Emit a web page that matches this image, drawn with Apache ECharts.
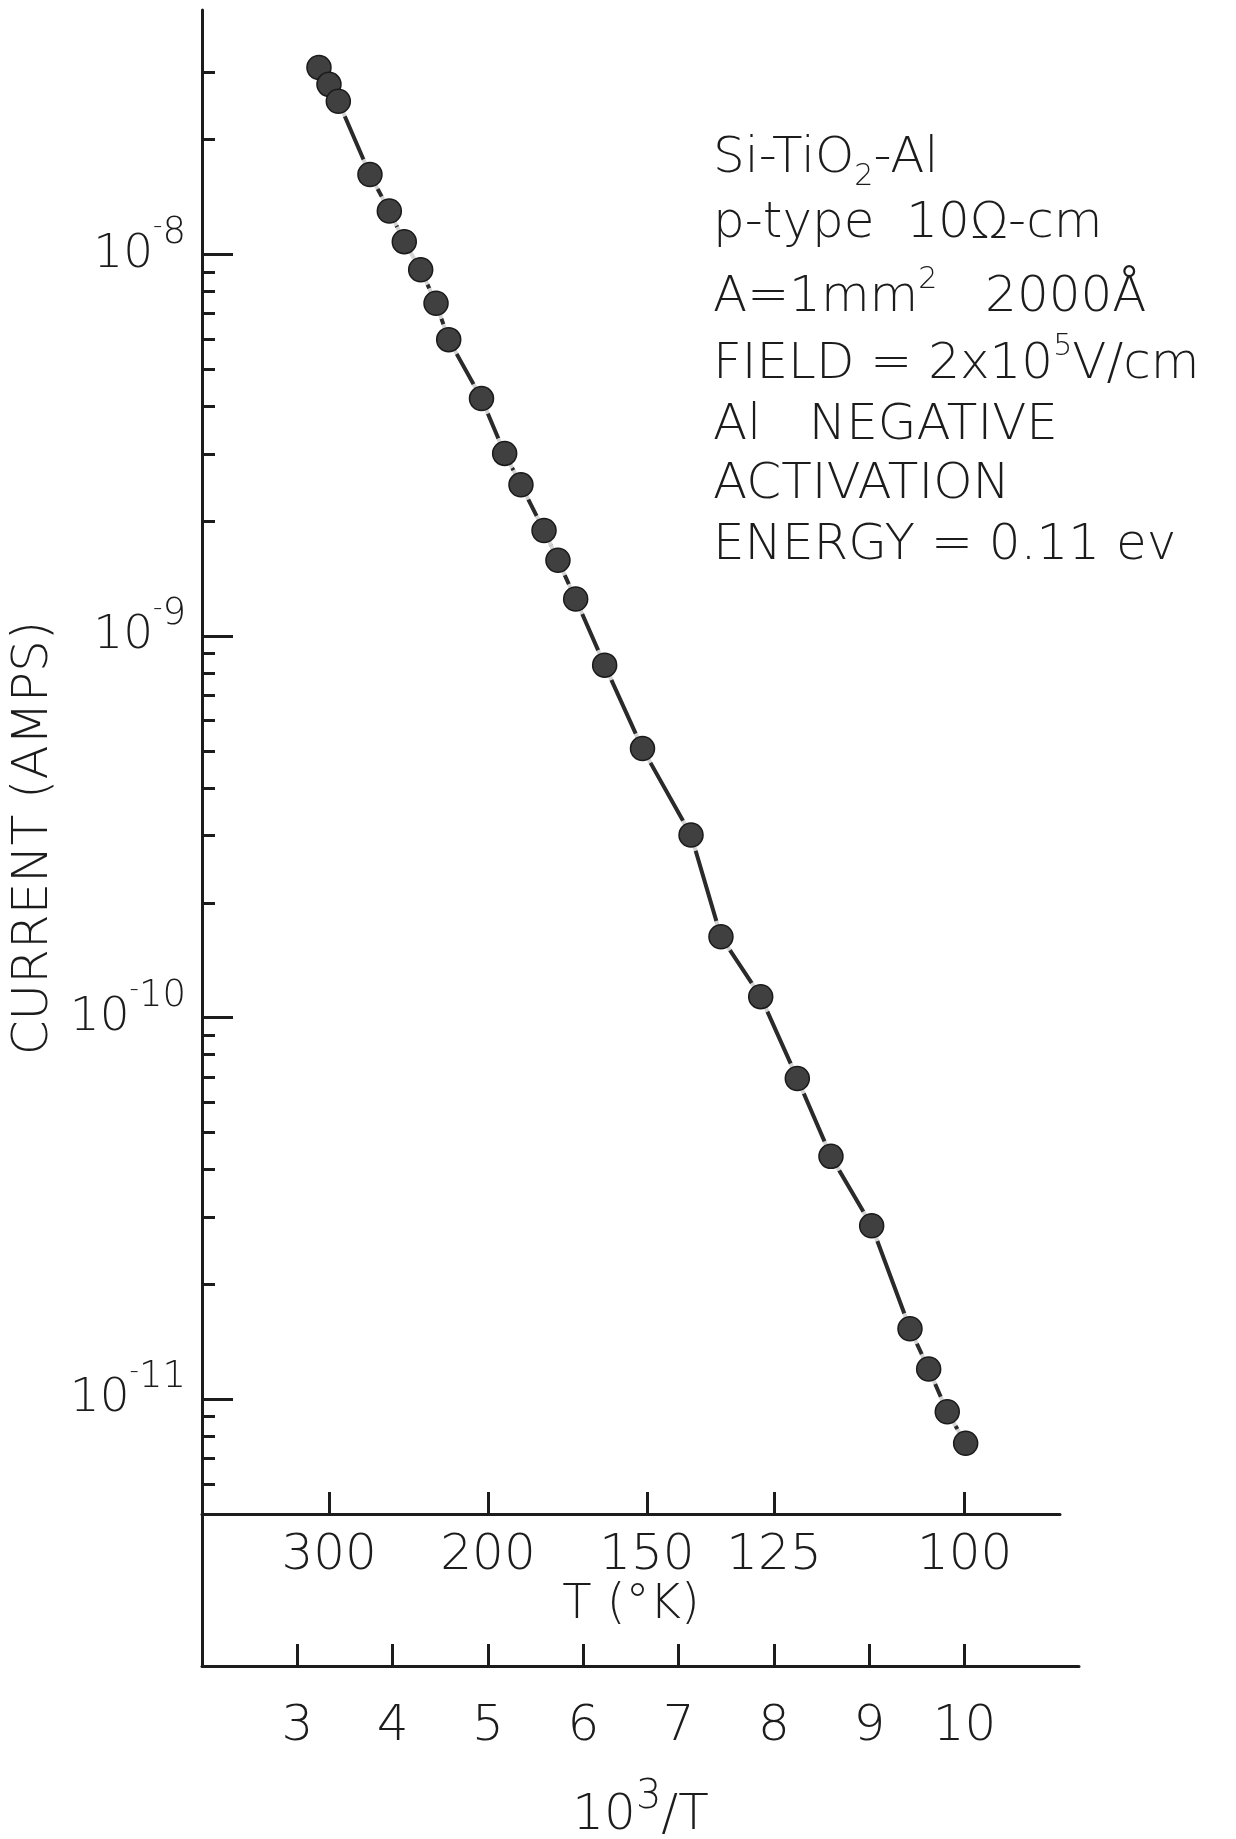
<!DOCTYPE html>
<html>
<head>
<meta charset="utf-8">
<script src="https://cdn.jsdelivr.net/npm/echarts@6/dist/echarts.min.js"></script>
<style>
html, body { margin: 0; padding: 0; background: #ffffff; }
#chart { width: 1236px; height: 1839px; }
</style>
</head>
<body>
<div id="chart"></div>
<script>
// ---- data ----
const invT = [3.227, 3.332, 3.430, 3.762, 3.965, 4.122, 4.294, 4.455, 4.588, 4.932,
              5.175, 5.346, 5.588, 5.734, 5.920, 6.224, 6.621, 7.130, 7.444, 7.861,
              8.245, 8.598, 9.025, 9.427, 9.623, 9.818, 10.011];
const currentAmps = [3.09e-8, 2.79e-8, 2.52e-8, 1.62e-8, 1.30e-8, 1.08e-8, 9.12e-9, 7.45e-9, 5.98e-9, 4.19e-9,
                     3.01e-9, 2.49e-9, 1.89e-9, 1.58e-9, 1.25e-9, 8.39e-10, 5.07e-10, 3.01e-10, 1.63e-10, 1.135e-10,
                     6.93e-11, 4.33e-11, 2.85e-11, 1.53e-11, 1.20e-11, 9.27e-12, 7.67e-12];

// ---- tick labels ----
const invTTicks = [3, 4, 5, 6, 7, 8, 9, 10];
const tempTicksK = [300, 200, 150, 125, 100];
const currentDecades = [1e-8, 1e-9, 1e-10, 1e-11];
const currentMinorTicks = [3e-8, 2e-8,
  9e-9, 8e-9, 7e-9, 6e-9, 5e-9, 4e-9, 3e-9, 2e-9,
  9e-10, 8e-10, 7e-10, 6e-10, 5e-10, 4e-10, 3e-10, 2e-10,
  9e-11, 8e-11, 7e-11, 6e-11, 5e-11, 4e-11, 3e-11, 2e-11,
  9e-12, 8e-12, 7e-12, 6e-12];

// ---- annotation text ----
const infoLines = [
  '{m|Si-TiO}{sub|2}{m|-Al}',
  '{m|p-type  10Ω-cm}',
  '{m|A=1mm}{sup|2}{m|   2000Å}',
  '{m|FIELD = 2x10}{sup|5}{m|V/cm}',
  '{m|Al   NEGATIVE}',
  '{m|ACTIVATION}',
  '{m|ENERGY = 0.11 ev}'
];
const infoCenters = [159, 224, 298, 365, 426, 485, 546];

const INK = '#1c1c1c';
const FONT = 'DejaVu Sans';
const W = 300;

const chart = echarts.init(document.getElementById('chart'), null, { renderer: 'canvas' });

const pts = invT.map((x, i) => [x, Math.log10(currentAmps[i])]);
const yMin = Math.log10(2e-12), yMax = Math.log10(4.37e-8);

const infoRich = {
  m:   { fontFamily: FONT, fontWeight: W, fontSize: 50, lineHeight: 66, color: INK },
  sup: { fontFamily: FONT, fontWeight: W, fontSize: 30, lineHeight: 36, verticalAlign: 'top', color: INK },
  sub: { fontFamily: FONT, fontWeight: W, fontSize: 30, lineHeight: 28, verticalAlign: 'bottom', color: INK }
};

const option = {
  backgroundColor: '#ffffff',
  animation: false,
  title: infoLines.map((t, i) => ({
    text: t,
    left: 713,
    top: infoCenters[i] - 33,
    padding: 0,
    textStyle: { fontFamily: FONT, fontWeight: W, fontSize: 50, color: INK, rich: infoRich }
  })),
  grid: [
    { left: 202, right: 157, top: 10, bottom: 173, containLabel: false, outerBoundsMode: 'none' },
    { left: 202, right: 176, top: 10, bottom: 325, containLabel: false, outerBoundsMode: 'none' }
  ],
  xAxis: [
    {
      gridIndex: 0, type: 'value', position: 'bottom', min: 2, max: 11.2,
      axisLine: { onZero: false, lineStyle: { color: INK, width: 3 } },
      axisTick: { inside: true, length: 22, customValues: invTTicks, lineStyle: { color: INK, width: 3 } },
      axisLabel: { customValues: invTTicks, margin: 36, formatter: v => String(Math.round(v)),
                   fontFamily: FONT, fontWeight: W, fontSize: 50, color: INK },
      splitLine: { show: false },
      name: '{a|10}{s|3}{a|/T}',
      nameLocation: 'middle', nameGap: 112, nameMoveOverlap: false,
      nameTextStyle: {
        rich: {
          a: { fontFamily: FONT, fontWeight: W, fontSize: 50, lineHeight: 76, color: INK },
          s: { fontFamily: FONT, fontWeight: W, fontSize: 40, lineHeight: 36, verticalAlign: 'top', color: INK }
        }
      }
    },
    {
      gridIndex: 1, type: 'value', position: 'bottom', min: 2, max: 11.0,
      axisLine: { onZero: false, lineStyle: { color: INK, width: 3 } },
      axisTick: { inside: true, length: 22, customValues: tempTicksK.map(t => 1000 / t), lineStyle: { color: INK, width: 3 } },
      axisLabel: { customValues: tempTicksK.map(t => 1000 / t), margin: 17, formatter: v => String(Math.round(1000 / v)),
                   fontFamily: FONT, fontWeight: W, fontSize: 50, color: INK },
      splitLine: { show: false },
      name: 'T (°K)',
      nameLocation: 'middle', nameGap: 62, nameMoveOverlap: false,
      nameTextStyle: { fontFamily: FONT, fontWeight: W, fontSize: 48, lineHeight: 60, color: INK }
    }
  ],
  yAxis: [
    {
      gridIndex: 0, type: 'value', position: 'left', min: yMin, max: yMax,
      axisLine: { show: true, onZero: false, lineStyle: { color: INK, width: 3 } },
      axisTick: { inside: true, length: 31, customValues: currentDecades.map(v => Math.log10(v)), lineStyle: { color: INK, width: 3 } },
      axisLabel: {
        customValues: currentDecades.map(v => Math.log10(v)), margin: 16,
        formatter: v => '{b|10}{m|-}{s|' + Math.abs(Math.round(v)) + '}',
        rich: {
          b: { fontFamily: FONT, fontWeight: W, fontSize: 47, lineHeight: 80, color: INK },
          m: { fontFamily: FONT, fontWeight: W, fontSize: 26, lineHeight: 36, verticalAlign: 'top', color: INK },
          s: { fontFamily: FONT, fontWeight: W, fontSize: 37, lineHeight: 36, verticalAlign: 'top', color: INK }
        }
      },
      splitLine: { show: false },
      name: 'CURRENT (AMPS)',
      nameLocation: 'middle', nameGap: 143, nameMoveOverlap: false,
      nameTextStyle: { fontFamily: FONT, fontWeight: W, fontSize: 50, color: INK }
    },
    {
      gridIndex: 0, type: 'value', position: 'left', min: yMin, max: yMax,
      axisLine: { show: false },
      axisTick: { inside: true, length: 13, customValues: currentMinorTicks.map(v => Math.log10(v)), lineStyle: { color: INK, width: 3 } },
      axisLabel: { show: false },
      splitLine: { show: false }
    },
    { gridIndex: 1, type: 'value', show: false, min: yMin, max: yMax }
  ],
  series: [
    {
      name: 'fit', type: 'line', xAxisIndex: 0, yAxisIndex: 0, data: pts,
      symbol: 'none', lineStyle: { color: '#2a2a2a', width: 4 }, z: 2, silent: true
    },
    {
      name: 'halo', type: 'scatter', xAxisIndex: 0, yAxisIndex: 0, data: pts,
      symbol: 'circle', symbolSize: 33, itemStyle: { color: '#ffffff' }, z: 3, silent: true
    },
    {
      name: 'current', type: 'scatter', xAxisIndex: 0, yAxisIndex: 0, data: pts,
      symbol: 'circle', symbolSize: 24,
      itemStyle: { color: '#404040', borderColor: '#1a1a1a', borderWidth: 1.5, opacity: 1 }, z: 4
    }
  ]
};
chart.setOption(option);
</script>
</body>
</html>
